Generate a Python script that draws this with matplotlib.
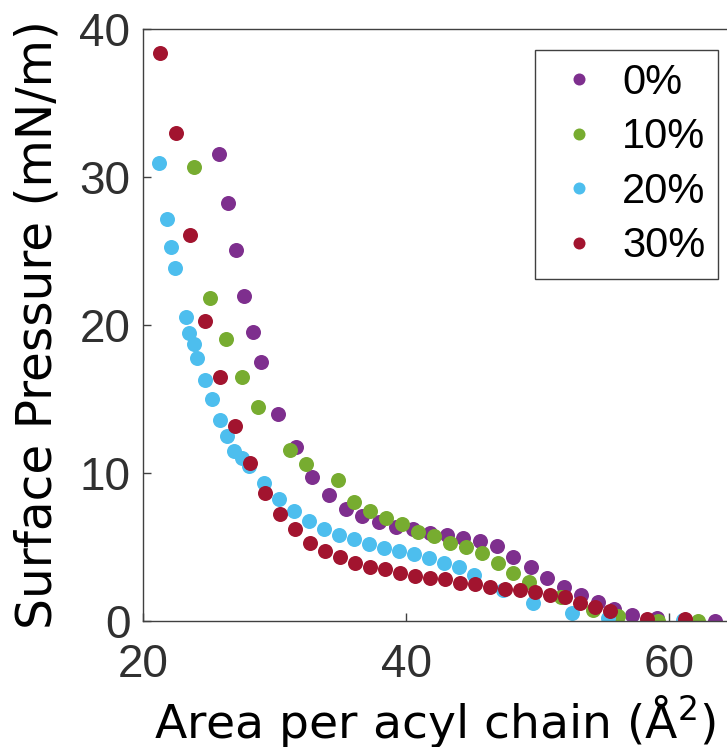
import numpy as np
import matplotlib
matplotlib.use("Agg")
from matplotlib import pyplot as plt

# surface pressure isotherms, one series per mol% content
labels = ["0%", "10%", "20%", "30%"]
colors = ["#7E2F8E", "#77AC30", "#4DBEEE", "#A2142F"]

area_0 = [25.78, 26.46, 27.07, 27.68, 28.37, 28.97, 30.27, 31.64, 32.85, 34.14,
          35.44, 36.65, 37.95, 39.24, 40.53, 41.83, 43.12, 44.33, 45.63, 46.92,
          48.14, 49.51, 50.72, 52.02, 53.31, 54.60, 55.82, 57.19, 59.09, 63.50]
pi_0 = [31.55, 28.24, 25.07, 21.96, 19.53, 17.50, 13.99, 11.76, 9.73, 8.51,
        7.57, 7.09, 6.69, 6.35, 6.22, 5.95, 5.81, 5.61, 5.41, 5.07,
        4.32, 3.65, 2.91, 2.30, 1.76, 1.28, 0.81, 0.41, 0.20, 0.00]

area_10 = [23.88, 25.10, 26.31, 27.53, 28.75, 31.18, 32.40, 34.83, 36.05, 37.26,
           38.48, 39.70, 40.91, 42.13, 43.35, 44.56, 45.78, 47.00, 48.14, 49.35,
           51.79, 54.22, 56.12, 59.16, 62.21]
pi_10 = [30.68, 21.82, 19.05, 16.49, 14.46, 11.55, 10.61, 9.53, 8.04, 7.43,
         6.96, 6.55, 6.01, 5.74, 5.27, 5.00, 4.59, 3.92, 3.24, 2.64,
         1.62, 0.74, 0.34, 0.00, 0.00]

area_20 = [21.22, 21.83, 22.13, 22.43, 23.27, 23.50, 23.88, 24.11, 24.71, 25.25,
           25.86, 26.39, 26.92, 27.53, 28.06, 29.20, 30.34, 31.48, 32.62, 33.76,
           34.90, 36.05, 37.19, 38.33, 39.47, 40.61, 41.75, 42.89, 44.03, 45.17,
           47.38, 49.66, 52.62, 55.36, 61.06]
pi_20 = [30.95, 27.16, 25.27, 23.85, 20.54, 19.46, 18.72, 17.77, 16.28, 15.00,
         13.58, 12.50, 11.49, 11.01, 10.47, 9.32, 8.24, 7.43, 6.76, 6.22,
         5.81, 5.54, 5.20, 4.93, 4.73, 4.53, 4.26, 3.92, 3.65, 3.11,
         2.09, 1.22, 0.54, 0.20, 0.07]

area_30 = [21.29, 22.51, 23.57, 24.71, 25.86, 27.00, 28.14, 29.28, 30.42, 31.56,
           32.70, 33.84, 34.98, 36.12, 37.26, 38.40, 39.54, 40.68, 41.83, 42.97,
           44.11, 45.25, 46.39, 47.53, 48.67, 49.81, 50.95, 52.09, 53.23, 54.37,
           55.51, 58.33, 61.22]
pi_30 = [38.38, 32.97, 26.08, 20.27, 16.49, 13.18, 10.68, 8.65, 7.23, 6.22,
         5.27, 4.73, 4.32, 3.92, 3.65, 3.51, 3.24, 3.04, 2.91, 2.84,
         2.57, 2.50, 2.30, 2.16, 2.09, 1.96, 1.76, 1.62, 1.22, 0.95,
         0.68, 0.14, 0.14]

series = [(area_0, pi_0), (area_10, pi_10), (area_20, pi_20), (area_30, pi_30)]

fig = plt.figure(figsize=(7.27, 7.47), dpi=100)
ax = fig.add_axes([143 / 727, 126 / 747, 584 / 727, 592 / 747])

for (a, p), c, lab in zip(series, colors, labels):
    ax.plot(a, p, "o", color=c, markersize=10.8, markeredgewidth=0, label=lab)

ax.set_xlim(20, 64.41)
ax.set_ylim(0, 40)
ax.set_xticks([20, 40, 60])
ax.set_yticks([0, 10, 20, 30, 40])

edge = "#404040"
for s in ["left", "bottom", "top"]:
    ax.spines[s].set_color(edge)
    ax.spines[s].set_linewidth(1.0)
ax.spines["right"].set_visible(False)
ax.tick_params(direction="in", length=6, width=1.0, color=edge,
               labelsize=33, labelcolor="#303030")
ax.tick_params(axis="x", pad=16)
ax.tick_params(axis="y", pad=9)
for t in ax.get_xticklabels() + ax.get_yticklabels():
    t.set_family("Liberation Sans")

# axis titles placed by baseline / right edge in axes fractions
ax.set_xlabel("Area per acyl chain (Å$^2$)", fontsize=34, family="DejaVu Sans")
ax.xaxis.set_label_coords(0.5, -(738 - 621) / 592)
ax.xaxis.label.set_va("baseline")
ax.set_ylabel("Surface Pressure (mN/m)", fontsize=35, family="DejaVu Sans")
ax.yaxis.set_label_coords(-(143 - 62) / 584, 0.5)

leg = ax.legend(loc="upper left", bbox_to_anchor=(535 / 727, 1 - 50 / 747),
                bbox_transform=fig.transFigure, borderaxespad=0,
                prop={"family": "Liberation Sans", "size": 30},
                markerscale=0.8, handlelength=1.5, handletextpad=0.29,
                labelspacing=0.35, borderpad=0.3, fancybox=False, framealpha=1)
leg.get_frame().set_edgecolor(edge)
leg.get_frame().set_linewidth(1.0)

fig.savefig("out.png", dpi=100)
